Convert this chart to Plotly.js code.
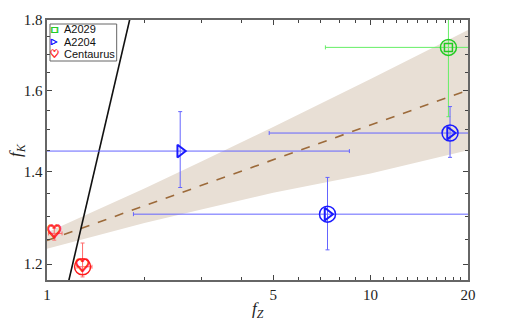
<!DOCTYPE html>
<html>
<head>
<meta charset="utf-8">
<script src="https://cdn.plot.ly/plotly-3.0.1.min.js"></script>
<style>
  html, body { margin: 0; padding: 0; background: #fff; }
  #chart { width: 523px; height: 325px; }
</style>
</head>
<body>
<div id="chart"></div>
<script>
// values: fZ on x, fK on y (both log)

// A2029
const a2029X = [17.4];
const a2029Y = [1.72];
const a2029XMinus = [10.15];
const a2029XPlus = [12.6];
const a2029YMinus = [0.187];
const a2029YPlus = [0.28];
const a2029Ring = [true];

// A2204
const a2204X = [2.58, 7.36, 17.6];
const a2204Y = [1.448, 1.304, 1.492];
const a2204XMinus = [2.08, 5.51, 12.74];
const a2204XPlus = [6.02, 22.6, 12.4];
const a2204YMinus = [0.085, 0.075, 0.059];
const a2204YPlus = [0.098, 0.082, 0.067];
const a2204Ring = [false, true, true];

// Centaurus
const centX = [1.053, 1.288];
const centY = [1.263, 1.195];
const centXMinus = [0.042, 0.05];
const centXPlus = [0.06, 0.089];
const centYMinus = [0.014, 0.02];
const centYPlus = [0.011, 0.048];
const centRing = [false, true];

// fit and its band
const fitX = [1, 20];
const fitY = [1.248, 1.602];
const bandX = [1, 1.5, 2, 3, 5, 10, 20];
const bandLo = [1.231, 1.262, 1.285, 1.314, 1.351, 1.395, 1.450];
const bandHi = [1.265, 1.320, 1.361, 1.423, 1.507, 1.632, 1.770];

// fK = fZ
const equalX = [1.1, 1.9];
const equalY = [1.1, 1.9];

// ticks
const xTicks = [1, 5, 10, 20];
const xMinor = [2, 3, 4, 6, 7, 8, 9, 11, 12, 13, 14, 15, 16, 17, 18, 19];
const yTicks = [1.2, 1.4, 1.6, 1.8];
const yMinor = [1.25, 1.3, 1.35, 1.45, 1.5, 1.55, 1.65, 1.7, 1.75];

const serif = 'Liberation Serif, DejaVu Serif, serif';
const sans = 'Liberation Sans, Arial, sans-serif';
const heartFont = 'Noto Sans CJK JP, DejaVu Sans, sans-serif';

// thicken a thin glyph outline with a ring of text shadows
function thick(color, d) {
  return [[d, 0], [-d, 0], [0, d], [0, -d]]
    .map(p => p[0] + 'px ' + p[1] + 'px 0 ' + color).join(', ');
}

function errs(minus, plus, color) {
  return {type: 'data', symmetric: false, array: plus, arrayminus: minus,
    color: color, thickness: 1, width: 2};
}

function pick(arr, flags) {
  return arr.filter((v, i) => flags[i]);
}

const red = '#ff1a1a';
const blue = '#1a1aff';
const green = '#22cc22';

const traces = [
  {x: bandX, y: bandLo, mode: 'lines', line: {width: 0}, hoverinfo: 'skip'},
  {x: bandX, y: bandHi, mode: 'lines', line: {width: 0}, fill: 'tonexty',
    fillcolor: '#e8dfd5', hoverinfo: 'skip'},
  {x: fitX, y: fitY, mode: 'lines', line: {color: '#9c6a3a', width: 1.6, dash: 'dash'}},
  {x: equalX, y: equalY, mode: 'lines', line: {color: '#111', width: 1.6}},

  // A2029
  {x: a2029X, y: a2029Y, mode: 'markers',
    marker: {symbol: 'square-open', size: 8, color: green, line: {width: 1.5}},
    error_x: errs(a2029XMinus, a2029XPlus, '#66ee66'),
    error_y: errs(a2029YMinus, a2029YPlus, '#66ee66')},
  {x: pick(a2029X, a2029Ring), y: pick(a2029Y, a2029Ring), mode: 'markers',
    marker: {symbol: 'circle-open', size: 16, color: green, line: {width: 1.5}}},

  // A2204
  {x: a2204X, y: a2204Y, mode: 'markers',
    marker: {symbol: 'triangle-right-open', size: 11, color: blue, line: {width: 2}},
    error_x: errs(a2204XMinus, a2204XPlus, '#6464ff'),
    error_y: errs(a2204YMinus, a2204YPlus, '#6464ff')},
  {x: pick(a2204X, a2204Ring), y: pick(a2204Y, a2204Ring), mode: 'markers',
    marker: {symbol: 'circle-open', size: 16, color: blue, line: {width: 1.5}}},

  // Centaurus
  {x: centX, y: centY, mode: 'markers', marker: {size: 1, opacity: 0},
    error_x: errs(centXMinus, centXPlus, '#ff6a6a'),
    error_y: errs(centYMinus, centYPlus, '#ff6a6a')},
  {x: centX, y: centY, mode: 'text', text: centX.map(() => '♡'),
    textposition: 'middle center', cliponaxis: false,
    textfont: {family: heartFont, size: 15, color: red, shadow: thick(red, 0.7)}},
  {x: pick(centX, centRing), y: pick(centY, centRing), mode: 'markers',
    marker: {symbol: 'circle-open', size: 16, color: red, line: {width: 1.5}}}
];

const axisCommon = {
  type: 'log',
  ticks: 'inside',
  ticklen: 5,
  tickwidth: 1,
  tickcolor: '#444',
  showline: true,
  linecolor: '#666',
  linewidth: 1.6,
  mirror: 'ticks',
  showgrid: false,
  zeroline: false,
  tickfont: {family: serif, size: 15, color: '#222'}
};

const legendItems = [
  {glyph: '□', font: 'DejaVu Sans', size: 8, color: green, label: 'A2029'},
  {glyph: '▷', font: 'DejaVu Sans', size: 8, color: blue, label: 'A2204'},
  {glyph: '♡', font: heartFont, size: 9, color: red, label: 'Centaurus'}
];

const annotations = [];
legendItems.forEach((item, i) => {
  const yy = 0.9635 - i * 0.047;
  annotations.push({xref: 'paper', yref: 'paper', x: 0.019, y: yy,
    xanchor: 'center', yanchor: 'middle', showarrow: false, borderpad: 0,
    text: item.glyph,
    font: {family: item.font, size: item.size, color: item.color, shadow: thick(item.color, 0.4)}});
  annotations.push({xref: 'paper', yref: 'paper', x: 0.037, y: yy,
    xanchor: 'left', yanchor: 'middle', showarrow: false, borderpad: 0,
    text: item.label, font: {family: sans, size: 11, color: '#111'}});
});

// axis titles placed by hand, as in the figure
annotations.push({xref: 'paper', yref: 'paper', x: 0.5, y: -0.115,
  xanchor: 'center', yanchor: 'middle', showarrow: false,
  text: '<i>f</i><sub><i>Z</i></sub>', font: {family: serif, size: 17, color: '#222'}});
annotations.push({xref: 'paper', yref: 'paper', x: -0.071, y: 0.5,
  xanchor: 'center', yanchor: 'middle', showarrow: false, textangle: -90,
  text: '<i>f</i><sub><i>K</i></sub>', font: {family: serif, size: 17, color: '#222'}});

const layout = {
  width: 523,
  height: 325,
  margin: {l: 47, r: 55, t: 20, b: 45},
  paper_bgcolor: '#fff',
  plot_bgcolor: '#fff',
  showlegend: false,
  xaxis: Object.assign({}, axisCommon, {
    range: [0, Math.log10(20)],
    tickvals: xTicks,
    ticktext: xTicks.map(String),
    minor: {tickvals: xMinor, ticks: 'inside', ticklen: 3, tickcolor: '#444', showgrid: false}
  }),
  yaxis: Object.assign({}, axisCommon, {
    range: [Math.log10(1.169), Math.log10(1.8)],
    tickvals: yTicks,
    ticktext: yTicks.map(v => v.toFixed(1)),
    minor: {tickvals: yMinor, ticks: 'inside', ticklen: 3, tickcolor: '#444', showgrid: false}
  }),
  shapes: [{type: 'rect', xref: 'paper', yref: 'paper', x0: 0.0071, x1: 0.1655, y0: 0.8423, y1: 0.9846,
    line: {color: '#666', width: 1}, fillcolor: 'rgba(0,0,0,0)'}],
  annotations: annotations
};

Plotly.newPlot('chart', traces, layout, {staticPlot: true});
</script>
</body>
</html>
